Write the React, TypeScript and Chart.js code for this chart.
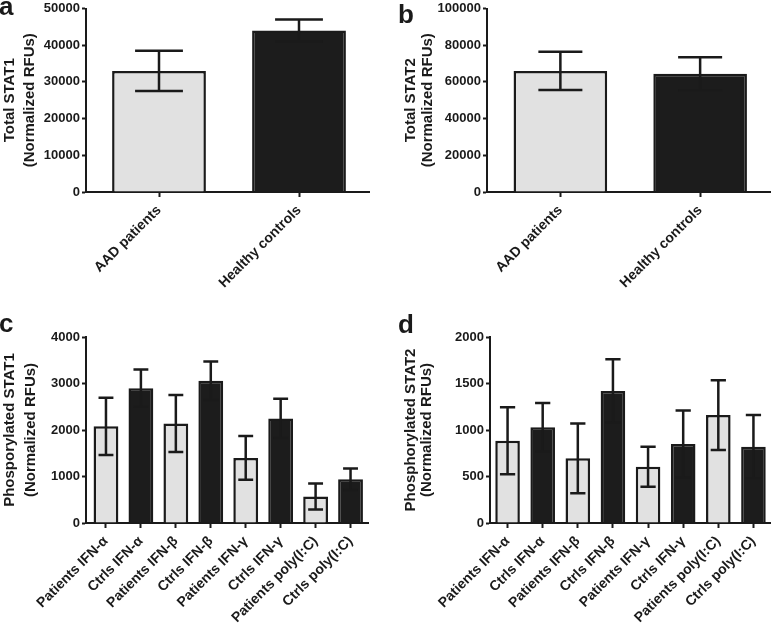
import React, { useEffect, useRef } from "react";
import { Chart, registerables } from "chart.js";

Chart.register(...registerables);

const FONT = "'Liberation Sans', Arial, Helvetica, sans-serif";
const INK = "#1a1a1a";
const LIGHT = "#e1e1e1";
const DARK = "#1c1c1c";

// ---- Data ----
const totalCategories = ["AAD patients", "Healthy controls"];
const totalStat1Means = [33000, 44000];
const totalStat1Errors = [5500, 3000];
const totalStat2Means = [66000, 64500];
const totalStat2Errors = [10400, 9000];

const phosCategories = [
  "Patients IFN-α",
  "Ctrls IFN-α",
  "Patients IFN-β",
  "Ctrls IFN-β",
  "Patients IFN-γ",
  "Ctrls IFN-γ",
  "Patients poly(I:C)",
  "Ctrls poly(I:C)",
];
const phosStat1Means = [2080, 2900, 2140, 3060, 1400, 2250, 570, 940];
const phosStat1Errors = [615, 400, 613, 415, 470, 420, 280, 230];
const phosStat2Means = [885, 1030, 695, 1420, 605, 850, 1160, 820];
const phosStat2Errors = [360, 260, 375, 340, 215, 360, 375, 340];

const titleA = ["Total STAT1", "(Normalized RFUs)"];
const titleB = ["Total STAT2", "(Normalized RFUs)"];
const titleC = ["Phosporylated STAT1", "(Normalized RFUs)"];
const titleD = ["Phosphorylated STAT2", "(Normalized RFUs)"];

type PanelProps = {
  left: number;
  top: number;
  w: number;
  h: number;
  axisX: number;
  areaTop: number;
  areaBottom: number;
  areaRight: number;
  xGap: number;
  categories: string[];
  means: number[];
  errors: number[];
  yMax: number;
  yStep: number;
  title: string[];
  titleLineHeight: number;
  titlePad: number;
  xFontSize: number;
  barPct: number;
  capFrac: number;
};

function Panel(p: PanelProps) {
  const ref = useRef<HTMLCanvasElement | null>(null);
  useEffect(() => {
    if (!ref.current) return;
    const errorBars = {
      id: "errorBars",
      afterLayout(chart: any) {
        const xs = chart.scales.x;
        if (p.xGap) {
          xs._startPixel += p.xGap;
          xs._endPixel = xs._endPixel;
          xs._length -= p.xGap;
        }
      },
      afterDatasetsDraw(chart: any) {
        const ctx = chart.ctx;
        const meta = chart.getDatasetMeta(0);
        const ys = chart.scales.y;
        ctx.save();
        ctx.strokeStyle = INK;
        ctx.lineWidth = 2.5;
        meta.data.forEach((bar: any, i: number) => {
          const { x, width } = bar.getProps(["x", "width"], true);
          const m = p.means[i];
          const e = p.errors[i];
          const yt = ys.getPixelForValue(m + e);
          const yb = ys.getPixelForValue(m - e);
          const half = (width * p.capFrac) / 2;
          ctx.beginPath();
          ctx.moveTo(x, yt);
          ctx.lineTo(x, yb);
          ctx.moveTo(x - half, yt);
          ctx.lineTo(x + half, yt);
          ctx.moveTo(x - half, yb);
          ctx.lineTo(x + half, yb);
          ctx.stroke();
        });
        ctx.restore();
      },
    };
    const chart = new Chart(ref.current, {
      type: "bar",
      data: {
        labels: p.categories,
        datasets: [
          {
            data: p.means,
            backgroundColor: p.categories.map((_, i) => (i % 2 === 0 ? LIGHT : DARK)),
            borderColor: INK,
            borderWidth: 2.5,
            borderSkipped: "start",
            barPercentage: p.barPct,
            categoryPercentage: 1,
          },
        ],
      },
      options: {
        responsive: false,
        animation: false,
        devicePixelRatio: 1,
        layout: { padding: { left: 0, top: p.areaTop, right: p.w - p.areaRight, bottom: 0 } },
        plugins: { legend: { display: false }, tooltip: { enabled: false } },
        scales: {
          x: {
            grid: {
              display: true,
              drawOnChartArea: false,
              drawTicks: true,
              tickLength: 5,
              tickWidth: 2,
              tickColor: INK,
              offset: false,
            },
            border: { display: true, color: INK, width: 2 },
            ticks: {
              autoSkip: false,
              maxRotation: 45,
              minRotation: 45,
              padding: 5,
              color: INK,
              font: { family: FONT, size: p.xFontSize, weight: "bold" },
            },
            afterFit: (s: any) => {
              s.height = p.h - p.areaBottom;
            },
          },
          y: {
            min: 0,
            max: p.yMax,
            ticks: {
              stepSize: p.yStep,
              padding: 2,
              color: INK,
              font: { family: FONT, size: 13, weight: "bold", lineHeight: 1 },
              callback: (v: any) => String(v),
            },
            grid: {
              display: true,
              drawOnChartArea: false,
              drawTicks: true,
              tickLength: 4,
              tickWidth: 2,
              tickColor: INK,
            },
            border: { display: true, color: INK, width: 2 },
            title: {
              display: true,
              text: p.title,
              color: INK,
              font: { family: FONT, size: 15, weight: "bold", lineHeight: p.titleLineHeight + "px" },
              padding: { top: p.titlePad, bottom: 0 },
            },
            afterFit: (s: any) => {
              s.width = p.axisX;
            },
          },
        },
      } as any,
      plugins: [errorBars],
    });
    return () => chart.destroy();
  }, []);
  return (
    <canvas
      ref={ref}
      width={p.w}
      height={p.h}
      style={{ position: "absolute", left: p.left, top: p.top, width: p.w, height: p.h }}
    />
  );
}

const letterStyle = (left: number, top: number): React.CSSProperties => ({
  position: "absolute",
  left,
  top,
  fontFamily: FONT,
  fontWeight: "bold",
  fontSize: 26,
  lineHeight: "26px",
  color: INK,
});

export default function App() {
  return (
    <div
      style={{
        position: "absolute",
        left: 0,
        top: 0,
        width: 771,
        height: 624,
        background: "#ffffff",
        overflow: "hidden",
      }}
    >
      <Panel
        left={0}
        top={0}
        w={385}
        h={300}
        axisX={86}
        areaTop={5}
        areaBottom={192}
        areaRight={369}
        xGap={3}
        categories={totalCategories}
        means={totalStat1Means}
        errors={totalStat1Errors}
        yMax={50000}
        yStep={10000}
        title={titleA}
        titleLineHeight={20}
        titlePad={0}
        xFontSize={14}
        barPct={0.67}
        capFrac={0.51}
      />
      <Panel
        left={385}
        top={0}
        w={386}
        h={300}
        axisX={102}
        areaTop={5}
        areaBottom={192}
        areaRight={385}
        xGap={3.5}
        categories={totalCategories}
        means={totalStat2Means}
        errors={totalStat2Errors}
        yMax={100000}
        yStep={20000}
        title={titleB}
        titleLineHeight={17.5}
        titlePad={17}
        xFontSize={14}
        barPct={0.67}
        capFrac={0.47}
      />
      <Panel
        left={0}
        top={300}
        w={385}
        h={324}
        axisX={86}
        areaTop={37}
        areaBottom={223}
        areaRight={368}
        xGap={2.5}
        categories={phosCategories}
        means={phosStat1Means}
        errors={phosStat1Errors}
        yMax={4000}
        yStep={1000}
        title={titleC}
        titleLineHeight={20.5}
        titlePad={0}
        xFontSize={14}
        barPct={0.71}
        capFrac={0.6}
      />
      <Panel
        left={385}
        top={300}
        w={386}
        h={324}
        axisX={105}
        areaTop={37}
        areaBottom={223}
        areaRight={386}
        xGap={0}
        categories={phosCategories}
        means={phosStat2Means}
        errors={phosStat2Errors}
        yMax={2000}
        yStep={500}
        title={titleD}
        titleLineHeight={16.5}
        titlePad={17.5}
        xFontSize={14}
        barPct={0.7}
        capFrac={0.62}
      />
      <div style={letterStyle(-1, -7)}>a</div>
      <div style={letterStyle(398, 1)}>b</div>
      <div style={letterStyle(-1, 310)}>c</div>
      <div style={letterStyle(398, 311)}>d</div>
    </div>
  );
}
